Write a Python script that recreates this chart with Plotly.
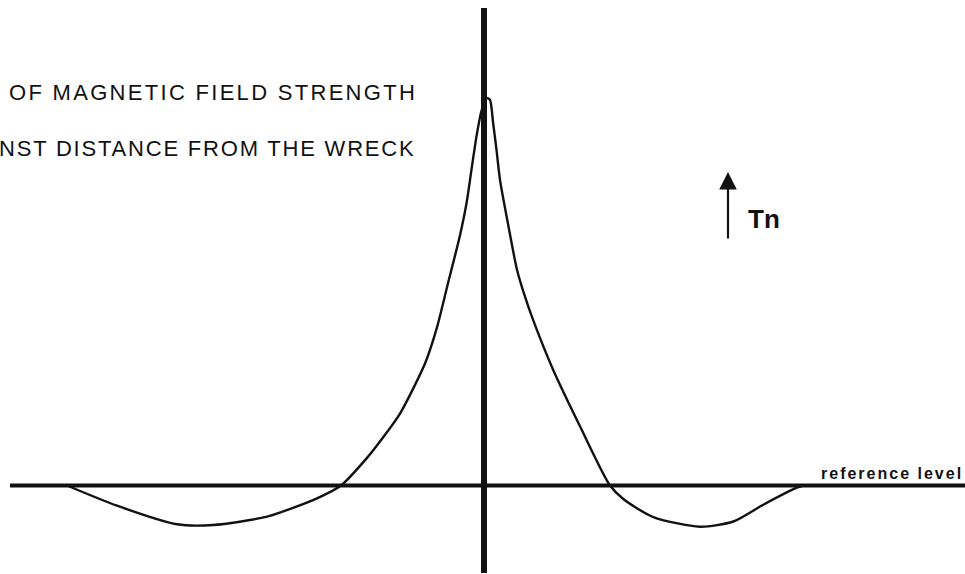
import plotly.graph_objects as go

# Distance from the wreck (arbitrary units, 0 = wreck position)
distance = [-417, -367, -307, -271, -217, -167, -143, -117, -101, -84, -59, -47,
            -36.5, -24, -17.3, -12.3, -7.3, -2.3, 2.7, 6, 9, 12.5, 16, 24, 33, 41, 49,
            69, 96, 126, 139.3, 169.3, 216, 249.3, 279.3, 312.7, 319.3]
# Total magnetic field strength relative to the reference level (arbitrary units)
field = [0, -20.2, -38.8, -39.5, -31.1, -12.8, 0, 27.6, 48, 71.9, 122, 158.1,
         200.2, 250.3, 283.3, 317.4, 350.4, 375.5, 387.5, 385.5, 363.5, 335.6, 305.6, 261.7,
         215.8, 188.8, 165.8, 116, 59.2, 0, -13.5, -31.6, -41.2, -36, -19.2, -2.2, 0]

title_lines = ["OF MAGNETIC FIELD STRENGTH", "NST DISTANCE FROM THE WRECK"]
ref_label = "reference level"
unit_label = "Tn"

W, H = 965, 574
INK = "#111111"


def px(x, y):
    return x / W, 1 - y / H


fig = go.Figure()
fig.add_trace(go.Scatter(
    x=distance, y=field, mode="lines",
    line=dict(color=INK, width=2.4, shape="spline", smoothing=0.7),
    hoverinfo="skip", showlegend=False,
))

shapes = [
    # reference level
    dict(type="line", xref="paper", yref="y", x0=10 / W, x1=1, y0=0, y1=0,
         line=dict(color=INK, width=4)),
    # vertical axis at the wreck position
    dict(type="line", xref="x", yref="paper", x0=0, x1=0, y0=1 - 573 / H, y1=1 - 8 / H,
         line=dict(color=INK, width=6)),
]

annotations = []
for txt, yy, x_right, sp in zip(title_lines, [92, 148], [419, 418], [2.3, 1.8]):
    xx, yp = px(x_right, yy)
    annotations.append(dict(
        text=f'<span style="letter-spacing:{sp}px">{txt}</span>', xref="paper", yref="paper",
        x=xx, y=yp, xanchor="right", yanchor="middle", showarrow=False,
        font=dict(family="Liberation Sans, Arial", size=22, color=INK)))

xx, yp = px(819, 473)
annotations.append(dict(
    text=f'<span style="letter-spacing:2px">{ref_label}</span>', xref="paper", yref="paper",
    x=xx, y=yp, xanchor="left", yanchor="middle", showarrow=False,
    font=dict(family="Liberation Sans, Arial", size=16, color=INK, weight="bold")))

xx, yp = px(746, 219)
annotations.append(dict(
    text=unit_label, xref="paper", yref="paper",
    x=xx, y=yp, xanchor="left", yanchor="middle", showarrow=False,
    font=dict(family="Liberation Sans, Arial", size=26, color=INK, weight="bold")))

tx, ty = px(728, 172)
annotations.append(dict(
    text="", xref="paper", yref="paper", x=tx, y=ty, ax=0, ay=68,
    showarrow=True, arrowhead=2, arrowsize=1.6, arrowwidth=2.2, arrowcolor=INK))

fig.update_layout(
    width=W, height=H, autosize=False,
    margin=dict(l=0, r=0, t=0, b=0),
    paper_bgcolor="white", plot_bgcolor="white",
    xaxis=dict(range=[-484, 481], visible=False, fixedrange=True),
    yaxis=dict(range=[-88.5, 485.5], visible=False, fixedrange=True),
    shapes=shapes, annotations=annotations,
)

fig.write_html("out.html", post_script="document.body.style.margin='0';",
               config={"displayModeBar": False})
